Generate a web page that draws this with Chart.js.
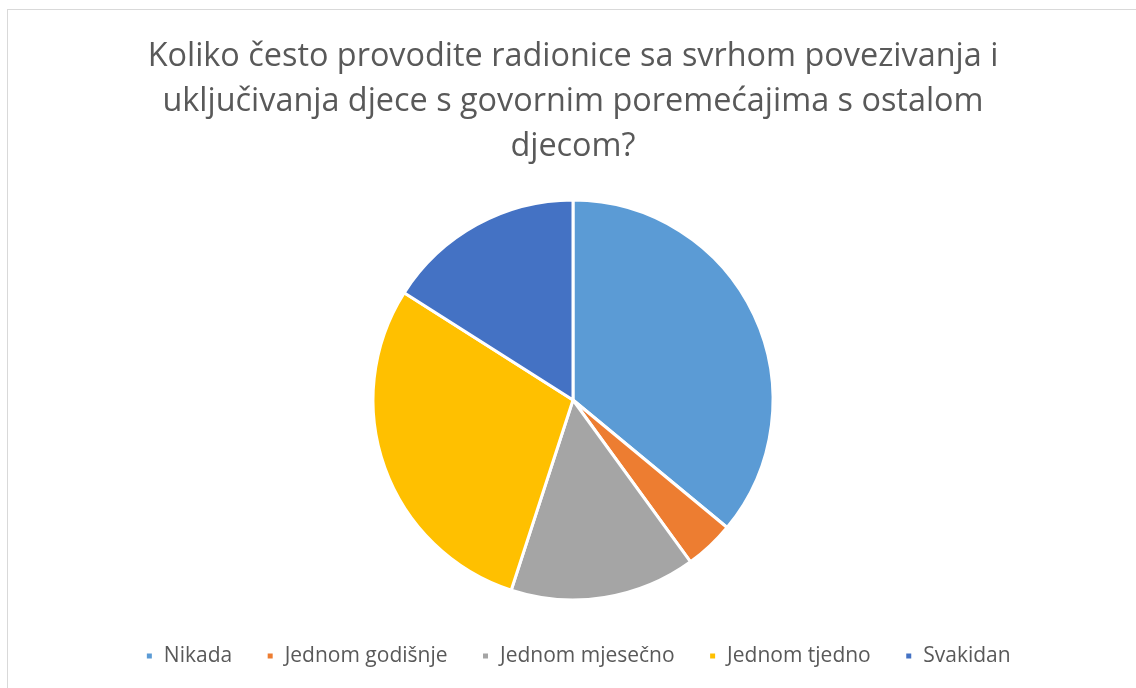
<!DOCTYPE html>
<html>
<head>
<meta charset="utf-8">
<script src="https://cdn.jsdelivr.net/npm/chart.js@4.4.1/dist/chart.umd.min.js"></script>
<style>
  html, body { margin: 0; padding: 0; background: #fff; overflow: hidden; }
  #frame { position: absolute; left: 7px; top: 9px; width: 1300px; height: 900px; border: 1px solid #d9d9d9; }
  #wrap { position: absolute; left: 0; top: 0; width: 1136px; height: 688px; }
</style>
</head>
<body>
<div id="frame"></div>
<div id="wrap"><canvas id="c" width="1136" height="688"></canvas></div>
<script>
const titleLines = [
  "Koliko često provodite radionice sa svrhom povezivanja i",
  "uključivanja djece s govornim poremećajima s ostalom",
  "djecom?"
];
const categories = ["Nikada", "Jednom godišnje", "Jednom mjesečno", "Jednom tjedno", "Svakidan"];
const values = [36, 4, 15, 29, 16];
const colors = ["#5B9BD5", "#ED7D31", "#A5A5A5", "#FFC000", "#4472C4"];

const legendNudge = {
  id: "legendNudge",
  afterLayout(chart) {
    if (chart.legend) {
      chart.legend.left += 5;
      chart.legend.right += 5;
    }
  }
};

new Chart(document.getElementById("c"), {
  type: "pie",
  data: {
    labels: categories,
    datasets: [{
      data: values,
      backgroundColor: colors,
      borderColor: "#ffffff",
      borderWidth: 3,
      radius: 200
    }]
  },
  plugins: [legendNudge],
  options: {
    responsive: false,
    animation: false,
    layout: { padding: { left: 10, right: 0, top: 0, bottom: 11.5 } },
    plugins: {
      title: {
        display: true,
        text: titleLines,
        color: "#595959",
        font: { family: "'Open Sans'", size: 32.4, weight: "normal", lineHeight: 45 / 32.4 },
        padding: { top: 34, bottom: 19.5 }
      },
      legend: {
        position: "bottom",
        labels: {
          color: "#595959",
          font: { family: "'Open Sans'", size: 21 },
          boxWidth: 8,
          boxHeight: 8,
          padding: 34
        }
      },
      tooltip: { enabled: false }
    }
  }
});
</script>
</body>
</html>
